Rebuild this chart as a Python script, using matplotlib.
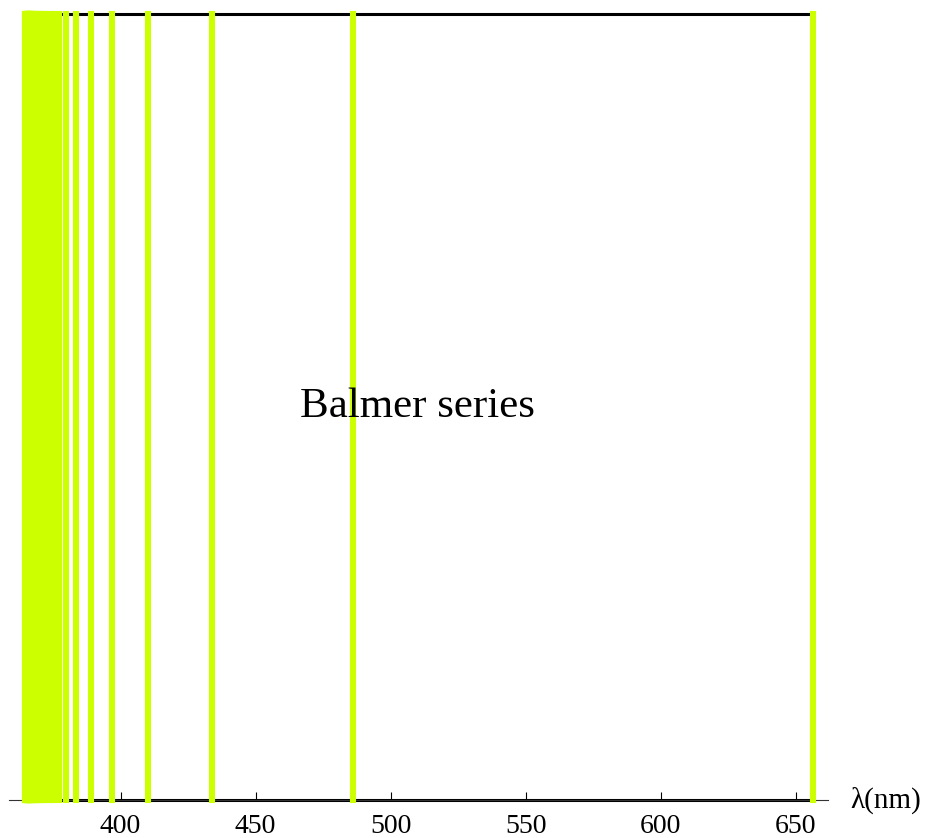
import matplotlib.pyplot as plt

# Balmer lines (nm), H-alpha down to the series limit
balmer_nm = [656.3, 486.1, 434.0, 410.2, 397.0, 388.9, 383.5, 379.8, 377.1,
             375.0, 373.4, 372.2, 371.2, 370.4, 369.7, 369.1, 368.7, 368.2,
             367.8, 367.5, 367.2, 367.0, 366.8, 366.6, 366.4, 366.3, 366.1,
             366.0, 365.9, 365.8, 365.7, 365.4, 365.2, 365.0, 364.8, 364.6]
x_ticks = [400, 450, 500, 550, 600, 650]
series_label = "Balmer series"
axis_label = "\u03bb(nm)"

plt.rcParams['font.family'] = ['Liberation Serif', 'DejaVu Serif']

fig = plt.figure(figsize=(9.3, 8.38), dpi=100)
ax = fig.add_axes([9 / 930, 38 / 838, 819 / 930, 786 / 838])
ax.set_xlim(358.7, 662.0)
ax.set_ylim(0, 1)

lo, hi = min(balmer_nm), max(balmer_nm)
ax.plot([lo, hi], [1, 1], color='black', lw=2.2, zorder=2, clip_on=False)
ax.plot([lo, hi], [0, 0], color='black', lw=2.2, zorder=2, clip_on=False)

for wl in balmer_nm:
    ax.plot([wl, wl], [0, 1], color='#ccff00', lw=4.4, solid_capstyle='projecting',
            zorder=3, clip_on=False)

ax.text(510, 0.5, series_label, fontsize=31, ha='center', va='center', zorder=4)

for side in ['left', 'right', 'top']:
    ax.spines[side].set_visible(False)
ax.spines['bottom'].set_linewidth(0.8)
ax.spines['bottom'].set_color('#333333')
ax.set_yticks([])
ax.set_xticks(x_ticks)
ax.tick_params(axis='x', direction='in', length=6, width=0.8, labelsize=20, pad=10)
ax.text(1.027, 0.0, axis_label, transform=ax.transAxes, fontsize=21,
        ha='left', va='center')

fig.savefig('out.png', dpi=100)
